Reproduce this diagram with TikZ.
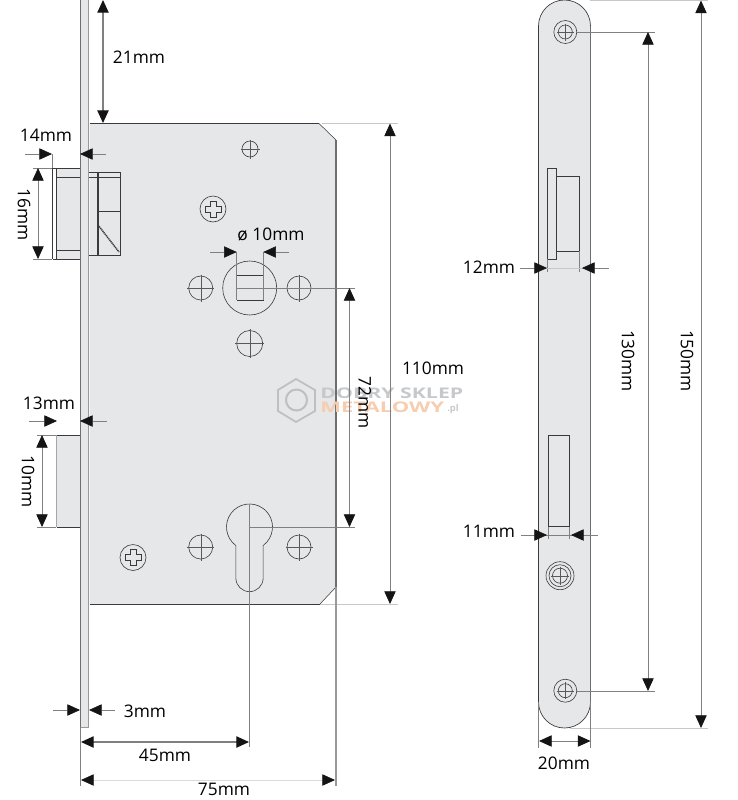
\documentclass[tikz,border=0pt]{standalone}
\usepackage{fontspec}
\setmainfont{Open Sans}
\usetikzlibrary{arrows.meta}
\definecolor{plategray}{HTML}{E6E7E8}
\definecolor{edgegray}{HTML}{6D6E71}
\definecolor{inkgray}{HTML}{3A3A3C}
\definecolor{markgray}{HTML}{C6C8CA}
\definecolor{markorange}{HTML}{F6CDB0}
\tikzset{
  tip/.tip={Triangle[length=9.5pt,width=8.5pt,color=black!92]},
  outline/.style={draw=inkgray, line width=0.5pt},
  extline/.style={draw=gray, line width=0.45pt},
  lightext/.style={draw=black!22, line width=0.45pt},
  dimline/.style={draw=gray, line width=0.6pt, {tip}-{tip}},
  dimhead/.style={draw=gray, line width=0.45pt, -{tip}},
  dimlabel/.style={font=\fontsize{13}{15}\selectfont, text=black, inner sep=0pt},
  hole/.style={draw=inkgray, line width=0.45pt, fill=plategray},
}
\newcommand{\crosshole}[3]{% x, y, radius
  \draw[hole] (#1,#2) circle (#3);
  \draw[draw=black!65, line width=0.3pt] (#1-#3-1.5,#2) -- (#1+#3+1.5,#2) (#1,#2-#3-1.5) -- (#1,#2+#3+1.5);
}
\newcommand{\phillips}[2]{% x, y
  \draw[hole] (#1,#2) circle (13);
  \draw[draw=inkgray, line width=0.45pt] (#1-3,#2-8) -- (#1+3,#2-8) -- (#1+3,#2-3) -- (#1+8,#2-3) -- (#1+8,#2+3) -- (#1+3,#2+3) -- (#1+3,#2+8) -- (#1-3,#2+8) -- (#1-3,#2+3) -- (#1-8,#2+3) -- (#1-8,#2-3) -- (#1-3,#2-3) -- cycle;
}
\begin{document}
\begin{tikzpicture}[x=0.75pt, y=-0.75pt]
\useasboundingbox (0,0) rectangle (738,800);

% body of the lock
\fill[plategray] (89.5,123.5) -- (319,123.5) -- (336,140) -- (336,587) -- (320,604) -- (89.5,604) -- cycle;
\draw[outline] (89.5,123.5) -- (319,123.5);
\draw[outline] (89.5,604) -- (320,604);
\draw[line width=0.4pt, draw=inkgray] (319,123.5) -- (336,140);
\draw[line width=0.4pt, draw=inkgray] (320,604) -- (336,587);
\draw[line width=1.1pt, draw=edgegray] (336,140) -- (336,587);

% latch and bolt through the face plate
\fill[plategray] (56.5,168) rectangle (80,259);
\draw[outline] (52.5,168) -- (80,168) (52.5,259) -- (80,259) (52.5,168) -- (52.5,259) (56.5,168) -- (56.5,259);
\draw[outline] (56.5,177) -- (80,177) (56.5,250) -- (80,250);
\draw[outline] (89,172.5) -- (120,172.5) -- (120,255) -- (89,255);
\draw[outline] (89,177) -- (120,177);
\draw[draw=inkgray, line width=0.9pt] (98,172.5) -- (98,255);
\draw[outline] (98,211) -- (120,211);
\draw[draw=inkgray, line width=1.1pt, dash pattern=on 0.9pt off 0.5pt] (98,225) -- (119,252);
\fill[plategray] (56.5,435) rectangle (80,527);
\draw[outline] (56.5,435) -- (80,435) (56.5,527) -- (80,527);
\draw[draw=black!35, line width=0.4pt] (56.5,435) -- (56.5,527);

% face plate
\fill[plategray] (80,0) rectangle (88.5,727);
\draw[draw=edgegray, line width=1.3pt] (80.5,0) -- (80.5,727);
\draw[draw=black!40, line width=0.4pt] (88.5,0) -- (88.5,727) -- (80,727);

% holes in the body
\crosshole{250}{149}{8}
\phillips{213}{209}
\draw[hole] (249.7,288) circle (27);
\draw[draw=inkgray, line width=0.7pt] (236.7,275) -- (263.3,275) -- (263.3,300.7) -- (236.7,300.7);
\crosshole{200.7}{288}{12}
\crosshole{299}{288}{12}
\crosshole{249.7}{343.5}{13}
\phillips{133}{557.5}
\crosshole{200.7}{547}{12}
\crosshole{299}{547}{12}
\draw[hole] (235.85,545.5) arc[start angle=126.4,end angle=413.6,radius=23] -- (263.15,578) arc[start angle=0,end angle=180,radius=13.65] -- cycle;

% watermark
\draw[draw=black!25, line width=1.3pt] (296,379) -- (315,390) -- (315,411) -- (296,422) -- (278,411) -- (278,390) -- cycle;
\draw[draw=black!25, line width=1.5pt] (296.5,400) circle (10.5);
\node[font=\bfseries\fontsize{11}{11}\selectfont, text=markgray, anchor=west, inner sep=0pt, xscale=1.45] (markone) at (320,393) {DOBRY SKLEP};
\node[font=\bfseries\fontsize{11}{11}\selectfont, text=markorange, anchor=west, inner sep=0pt, xscale=1.5] (marktwo) at (320,407) {METALOWY};
\node[font=\bfseries\fontsize{7}{7}\selectfont, text=markgray, anchor=west, inner sep=0pt] (markthree) at (447,409) {.pl};

% dimensions left drawing
\draw[dimline, line width=0.9pt] (103,0) -- (103,123);
\node[dimlabel] (deptha) at (139,57) {21mm};

\draw[extline] (52.5,154) -- (52.5,168);
\draw[dimhead] (25,154) -- (52,154);
\draw[dimhead] (106,154) -- (80,154);
\node[dimlabel] (latchout) at (46,135) {14mm};

\draw[extline] (33,168) -- (52,168) (33,259) -- (52,259);
\draw[dimline] (38,168) -- (38,259);
\node[dimlabel, rotate=-90] (latchh) at (24,215) {16mm};

\draw[extline] (236.7,252) -- (236.7,300) (263.3,252) -- (263.3,300);
\draw[dimhead] (210,252) -- (236.7,252);
\draw[dimhead] (289,252) -- (263.3,252);
\node[dimlabel] (follower) at (271,234) {ø 10mm};

\draw[extline] (236.7,288) -- (355,288) (249.5,527) -- (355,527);
\draw[dimline] (349.5,288) -- (349.5,527);
\node[dimlabel, rotate=-90] (centers) at (365,403) {72mm};

\draw[lightext] (322,123.5) -- (398,123.5);
\draw[lightext] (320,604) -- (398,604);
\draw[dimline] (390,123.5) -- (390,604);
\node[dimlabel] (bodyh) at (433,368) {110mm};

\draw[dimhead] (29,421) -- (57,421);
\draw[dimhead] (107,421) -- (80,421);
\node[dimlabel] (boltout) at (49,403) {13mm};

\draw[extline] (37,435) -- (56,435) (37,527) -- (56,527);
\draw[dimline] (42,435) -- (42,527);
\node[dimlabel, rotate=-90] (bolth) at (28,482) {10mm};

\draw[dimhead] (53,710) -- (80,710);
\draw[dimhead] (115,710) -- (89,710);
\node[dimlabel] (platet) at (145,711) {3mm};

\draw[extline] (249.5,504) -- (249.5,747);
\draw[extline] (80.5,727) -- (80.5,786);
\draw[dimline, line width=0.9pt] (81,742) -- (249,742);
\node[dimlabel] (backset) at (165,755) {45mm};

\draw[draw=black!40, line width=1pt] (336,587) -- (336,786);
\draw[draw=black!15, line width=0.45pt, {tip}-{tip}] (81,780) -- (335,780);
\node[dimlabel] (bodyw) at (224,789) {75mm};

% face plate from the front
\fill[plategray] (538.5,702) -- (538.5,26) arc[start angle=180,end angle=360,radius=26] -- (590.5,702) arc[start angle=0,end angle=180,radius=26] -- cycle;
\draw[draw=inkgray, line width=0.5pt] (538.5,702) -- (538.5,26) arc[start angle=180,end angle=360,radius=26];
\draw[draw=edgegray, line width=0.8pt] (590.5,26) -- (590.5,702);
\draw[draw=inkgray, line width=0.5pt] (590.5,702) arc[start angle=0,end angle=180,radius=26];

\draw[outline] (547.3,168) rectangle (556.7,259.3);
\draw[outline] (556.7,176) -- (579.5,176) -- (579.5,251) -- (556.7,251);
\draw[outline] (548,435) rectangle (569,526.7);

\draw[hole] (565.3,32) circle (11.5);
\crosshole{565.3}{32}{7}
\draw[hole] (565.3,690.7) circle (11.5);
\crosshole{565.3}{690.7}{7}
\draw[hole] (560,575.7) circle (14);
\draw[hole] (560,575.7) circle (11);
\crosshole{560}{575.7}{7.5}

% dimensions right drawing
\draw[extline] (547.3,259) -- (547.3,272) (579.5,251) -- (579.5,272);
\draw[lightext] (520,268) -- (609,268);
\draw[dimhead] (520,268) -- (547,268);
\draw[dimhead] (609,268) -- (582,268);
\node[dimlabel] (rightlatch) at (489,267) {12mm};

\draw[extline] (548,527) -- (548,539) (569,527) -- (569,539);
\draw[extline] (521,535) -- (598,535);
\draw[dimhead] (521,535) -- (547,535);
\draw[dimhead] (598,535) -- (571,535);
\node[dimlabel] (rightbolt) at (489,531) {11mm};

\draw[extline] (577,32) -- (655,32) (577,691) -- (655,691);
\draw[dimline] (648,32) -- (648,691);
\node[dimlabel, rotate=-90] (screws) at (628,361) {130mm};

\draw[lightext] (590,0.3) -- (708,0.3) (570,728) -- (708,728);
\draw[dimline] (701,0.5) -- (701,728);
\node[dimlabel, rotate=-90] (platelen) at (687,361) {150mm};

\draw[extline] (538.5,702) -- (538.5,748) (590.5,702) -- (590.5,748);
\draw[dimline] (539,741) -- (590.5,741);
\node[dimlabel] (platew) at (564,763) {20mm};
\end{tikzpicture}
\end{document}
